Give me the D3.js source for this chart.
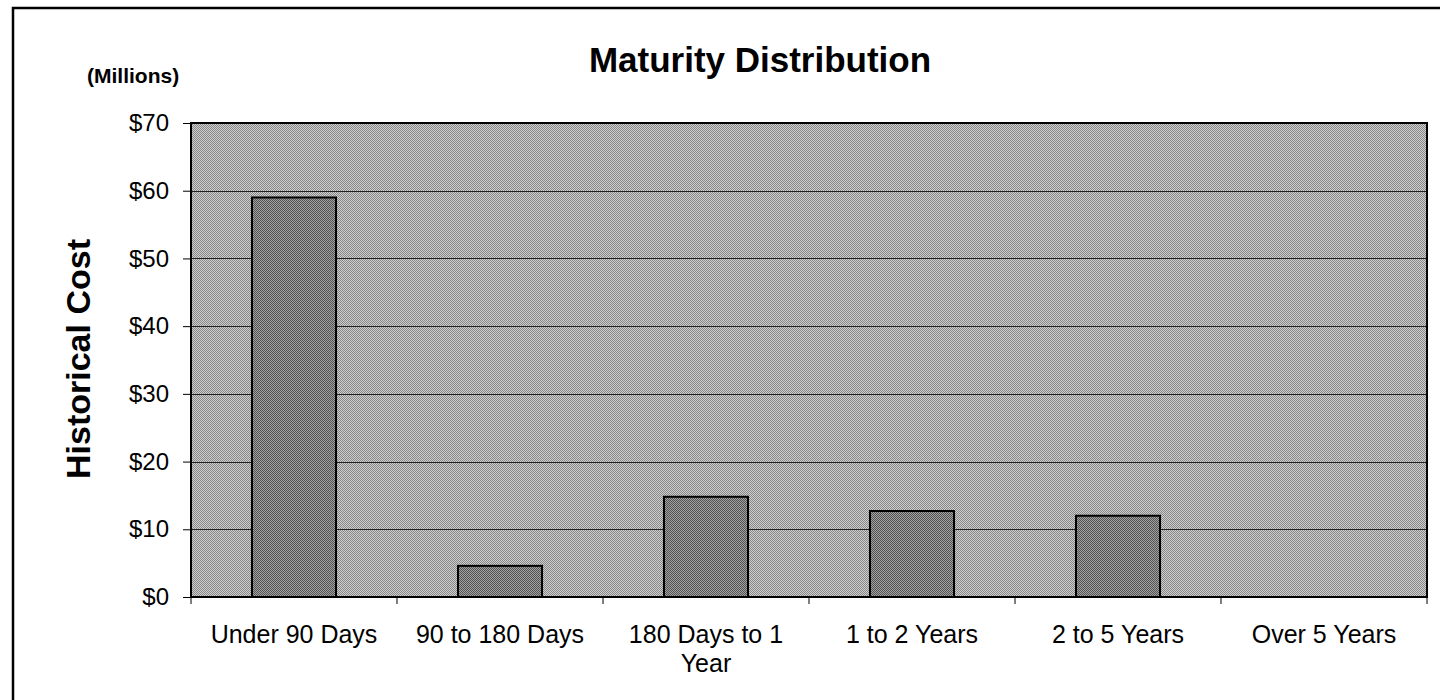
<!DOCTYPE html>
<html lang="en">
  <head>
    <meta charset="utf-8">
    <title>Maturity Distribution</title>
    <script src="https://d3js.org/d3.v7.js"></script>
    <style>
    html, body {margin: 0; padding: 0; background: white; overflow: hidden;}
    svg {display: block;}
    text {font-family: Arial, "Liberation Sans", sans-serif; fill: black;}
    </style>
  </head>
  <body>
  <script>

  // chart data
  var categories = ["Under 90 Days", "90 to 180 Days", "180 Days to 1 Year", "1 to 2 Years", "2 to 5 Years", "Over 5 Years"];
  var costs = [59, 4.6, 14.8, 12.7, 12, 0];
  var yTicks = [0, 10, 20, 30, 40, 50, 60, 70];

  var w = 1440;
  var h = 700;
  var margin = {top: 123, right: 13, bottom: 103, left: 191};
  var innerWidth = w - margin.left - margin.right;
  var innerHeight = h - margin.top - margin.bottom;

  var data = categories.map(function(c, i) {
    return {cat: c, value: costs[i]};
  });

  var svg = d3.select("body")
      .append("svg")
      .attr("width", w)
      .attr("height", h);

  // halftone-ish fills like the scanned page
  var defs = svg.append("defs");
  var bgPat = defs.append("pattern")
      .attr("id", "bgpat")
      .attr("width", 2).attr("height", 2)
      .attr("patternUnits", "userSpaceOnUse");
  bgPat.append("rect").attr("width", 2).attr("height", 2).attr("fill", "#d0d0d0");
  bgPat.append("rect").attr("width", 1).attr("height", 1).attr("fill", "#868686");
  bgPat.append("rect").attr("x", 1).attr("y", 1).attr("width", 1).attr("height", 1).attr("fill", "#868686");

  var barPat = defs.append("pattern")
      .attr("id", "barpat")
      .attr("width", 2).attr("height", 2)
      .attr("patternUnits", "userSpaceOnUse");
  barPat.append("rect").attr("width", 2).attr("height", 2).attr("fill", "#a2a2a2");
  barPat.append("rect").attr("width", 1).attr("height", 1).attr("fill", "#525252");
  barPat.append("rect").attr("x", 1).attr("y", 1).attr("width", 1).attr("height", 1).attr("fill", "#525252");

  // outer frame (open on right and bottom, as in the scan)
  svg.append("path")
      .attr("d", `M13,${h} L13,8 L${w},8`)
      .attr("fill", "none")
      .attr("stroke", "black")
      .attr("stroke-width", 2.5);

  var xScale = d3.scaleBand()
      .domain(categories)
      .range([0, innerWidth])
      .paddingInner(0.592)
      .paddingOuter(0.296);

  var yScale = d3.scaleLinear()
      .domain([0, 70])
      .range([innerHeight, 0]);

  var g = svg.append("g")
      .attr("transform", `translate(${margin.left}, ${margin.top})`);

  // plot area background
  g.append("rect")
      .attr("width", innerWidth)
      .attr("height", innerHeight)
      .attr("fill", "url(#bgpat)");

  // gridlines
  g.selectAll(".grid")
      .data(yTicks.filter(d => d > 0 && d < 70))
      .join("line")
      .attr("class", "grid")
      .attr("x1", 0)
      .attr("x2", innerWidth)
      .attr("y1", d => Math.round(yScale(d)) + 0.5)
      .attr("y2", d => Math.round(yScale(d)) + 0.5)
      .attr("stroke", "#222")
      .attr("stroke-width", 1);

  // bars
  g.selectAll(".bar")
      .data(data.filter(d => d.value > 0))
      .join("rect")
      .attr("class", "bar")
      .attr("x", d => xScale(d.cat))
      .attr("y", d => yScale(d.value))
      .attr("width", xScale.bandwidth())
      .attr("height", d => innerHeight - yScale(d.value))
      .attr("fill", "url(#barpat)")
      .attr("stroke", "black")
      .attr("stroke-width", 2);

  // plot border
  g.append("rect")
      .attr("width", innerWidth)
      .attr("height", innerHeight)
      .attr("fill", "none")
      .attr("stroke", "black")
      .attr("stroke-width", 2);

  // y axis
  var yAxis = d3.axisLeft(yScale)
      .tickValues(yTicks)
      .tickSize(8)
      .tickPadding(14)
      .tickFormat(d => "$" + d);
  var yG = g.append("g").call(yAxis);
  yG.select(".domain").remove();
  yG.selectAll("line").attr("stroke", "black").attr("stroke-width", 1);
  yG.selectAll("text")
      .style("font-size", "24px")
      .attr("font-family", "Arial, 'Liberation Sans', sans-serif");

  // x axis ticks at category boundaries
  var step = xScale.step();
  g.selectAll(".xtick")
      .data(d3.range(categories.length + 1))
      .join("line")
      .attr("class", "xtick")
      .attr("x1", i => i * step)
      .attr("x2", i => i * step)
      .attr("y1", innerHeight)
      .attr("y2", innerHeight + 7)
      .attr("stroke", "black")
      .attr("stroke-width", 1);

  // category labels (wrapped like the original)
  var labelLines = {"180 Days to 1 Year": ["180 Days to 1", "Year"]};
  var xl = g.selectAll(".xlabel")
      .data(categories)
      .join("text")
      .attr("class", "xlabel")
      .attr("text-anchor", "middle")
      .attr("x", d => xScale(d) + xScale.bandwidth() / 2)
      .attr("y", innerHeight + 46)
      .style("font-size", "25px");
  xl.each(function(d) {
    var lines = labelLines[d] || [d];
    var t = d3.select(this);
    lines.forEach(function(l, k) {
      t.append("tspan")
        .attr("x", xScale(d) + xScale.bandwidth() / 2)
        .attr("dy", k === 0 ? 0 : 29)
        .text(l);
    });
  });

  // title
  svg.append("text")
     .attr("x", 760)
     .attr("y", 72)
     .attr("text-anchor", "middle")
     .style("font-size", "35px")
     .style("font-weight", "bold")
     .text("Maturity Distribution");

  svg.append("text")
     .attr("x", 87)
     .attr("y", 83)
     .style("font-size", "21px")
     .style("font-weight", "bold")
     .text("(Millions)");

  // y axis title
  svg.append("text")
     .attr("transform", "translate(90, 359) rotate(-90)")
     .attr("text-anchor", "middle")
     .style("font-size", "34px")
     .style("font-weight", "bold")
     .text("Historical Cost");

  </script>
  </body>
</html>
